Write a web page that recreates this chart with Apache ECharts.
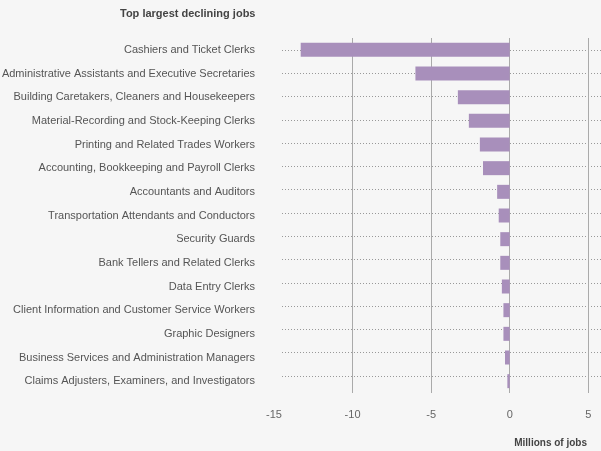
<!DOCTYPE html>
<html><head><meta charset="utf-8">
<script src="https://cdn.jsdelivr.net/npm/echarts@6/dist/echarts.min.js"></script>
<style>html,body{margin:0;background:#f6f6f6}#main{width:601px;height:451px}</style>
</head><body><div id="main"></div>
<script>
var jobs = ['Cashiers and Ticket Clerks', 'Administrative Assistants and Executive Secretaries',
    'Building Caretakers, Cleaners and Housekeepers', 'Material-Recording and Stock-Keeping Clerks',
    'Printing and Related Trades Workers', 'Accounting, Bookkeeping and Payroll Clerks',
    'Accountants and Auditors', 'Transportation Attendants and Conductors', 'Security Guards',
    'Bank Tellers and Related Clerks', 'Data Entry Clerks', 'Client Information and Customer Service Workers',
    'Graphic Designers', 'Business Services and Administration Managers', 'Claims Adjusters, Examiners, and Investigators'];
var change = [-13.3, -6.0, -3.3, -2.6, -1.9, -1.7, -0.8, -0.7, -0.6, -0.6, -0.5, -0.4, -0.4, -0.3, -0.15];

var myChart = echarts.init(document.getElementById('main'));
option = {
    backgroundColor: '#f6f6f6',
    textStyle: {fontFamily: 'Liberation Sans'},
    title: [
        {text: 'Top largest declining jobs', left: 115, top: 3,
         textStyle: {fontSize: 11, fontWeight: 'bold', color: '#444'}},
        {text: 'Millions of jobs', right: 9, top: 433,
         textStyle: {fontSize: 10, fontWeight: 'bold', color: '#444'}}
    ],
    grid: [
        {left: 274, right: -3, top: 38, bottom: 58, outerBoundsMode: 'none', containLabel: false},
        {left: 282, right: 0, top: 50, bottom: 75, outerBoundsMode: 'none', containLabel: false}
    ],
    xAxis: [
        {type: 'value', gridIndex: 0, min: -15, max: 6, interval: 5,
         axisLine: {show: false}, axisTick: {show: false},
         axisLabel: {color: '#666', fontSize: 11, margin: 16, showMaxLabel: false},
         splitLine: {showMinLine: false, showMaxLine: false, lineStyle: {color: '#aaa'}}},
        {type: 'value', gridIndex: 1, show: false, min: 0, max: 1}
    ],
    yAxis: [
        {type: 'category', gridIndex: 0, data: jobs, inverse: true,
         axisLine: {show: false}, axisTick: {show: false},
         axisLabel: {color: '#555', fontSize: 11, margin: 19}},
        {type: 'category', gridIndex: 1, data: jobs, inverse: true, boundaryGap: false,
         axisLine: {show: false}, axisTick: {show: false}, axisLabel: {show: false},
         splitLine: {show: true, lineStyle: {color: '#999', type: [1, 2]}}}
    ],
    series: [
        {type: 'bar', xAxisIndex: 0, yAxisIndex: 0, data: change, barWidth: 14,
         itemStyle: {color: '#a88fbb'}, z: 5}
    ]
};
myChart.setOption(option);
</script></body></html>
